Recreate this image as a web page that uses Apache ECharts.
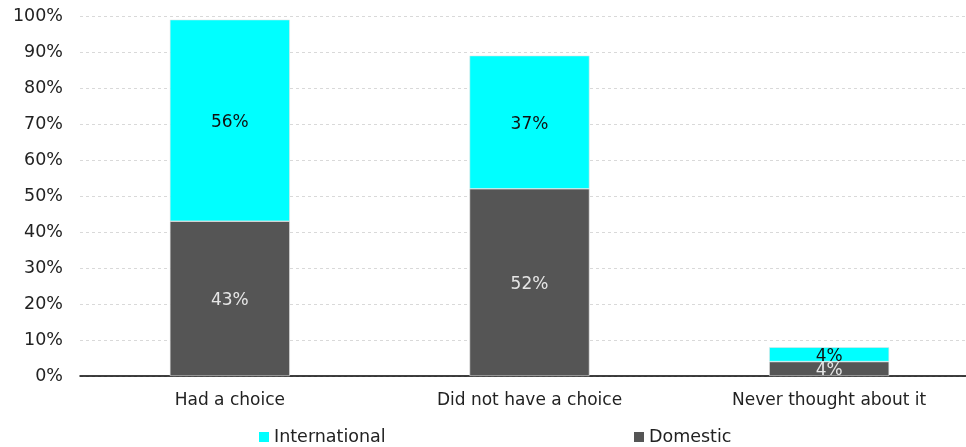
<!DOCTYPE html>
<html>
<head>
<meta charset="utf-8">
<script src="https://cdn.jsdelivr.net/npm/echarts@6/dist/echarts.min.js"></script>
<style>
  html, body { margin: 0; padding: 0; background: #fff; overflow: hidden; }
  #myChart { width: 980px; height: 447px; }
</style>
</head>
<body>
<div id="myChart"></div>
<script>
// data
var categories = ["Had a choice", "Did not have a choice", "Never thought about it"];
var domestic = [43, 52, 4];
var international = [56, 37, 4];
var yTicks = [0, 10, 20, 30, 40, 50, 60, 70, 80, 90, 100];

var myChart = echarts.init(document.getElementById("myChart"));

var legendText = { fontSize: 17.5, color: "#222", fontFamily: "DejaVu Sans" };

myChart.setOption({
  animation: false,
  textStyle: { fontFamily: "DejaVu Sans" },
  grid: {
    left: 80,
    top: 16,
    right: 1,
    height: 360,
    containLabel: false
  },
  legend: [
    {
      data: ["International"],
      left: 259,
      top: 428,
      padding: 0,
      icon: "rect",
      itemWidth: 10,
      itemHeight: 10,
      itemStyle: { borderWidth: 0 },
      textStyle: legendText
    },
    {
      data: ["Domestic"],
      left: 634,
      top: 428,
      padding: 0,
      icon: "rect",
      itemWidth: 10,
      itemHeight: 10,
      itemStyle: { borderWidth: 0 },
      textStyle: legendText
    }
  ],
  xAxis: {
    type: "category",
    data: categories,
    axisTick: { show: false },
    axisLine: { lineStyle: { color: "#000", width: 1.5 } },
    axisLabel: { fontSize: 17, color: "#222", margin: 16 }
  },
  yAxis: {
    type: "value",
    min: yTicks[0],
    max: yTicks[yTicks.length - 1],
    interval: 10,
    axisLine: { show: false },
    axisTick: { show: false },
    axisLabel: { fontSize: 17.5, color: "#222", margin: 17, formatter: "{value}%" },
    splitLine: { lineStyle: { color: "#d9d9d9", type: [3, 3] } }
  },
  series: [
    {
      name: "Domestic",
      type: "bar",
      stack: "total",
      barWidth: 120,
      data: domestic,
      itemStyle: { color: "#555555", borderColor: "#e4e4e4", borderWidth: 0.6 },
      label: {
        show: true,
        position: "inside",
        offset: [0, 2],
        formatter: "{c}%",
        fontSize: 17,
        color: "#e6e6e6"
      }
    },
    {
      name: "International",
      type: "bar",
      stack: "total",
      barWidth: 120,
      data: international,
      itemStyle: { color: "#00ffff", borderColor: "#e4e4e4", borderWidth: 0.6 },
      label: {
        show: true,
        position: "inside",
        offset: [0, 2],
        formatter: "{c}%",
        fontSize: 17,
        color: "#111"
      }
    }
  ]
});
</script>
</body>
</html>
